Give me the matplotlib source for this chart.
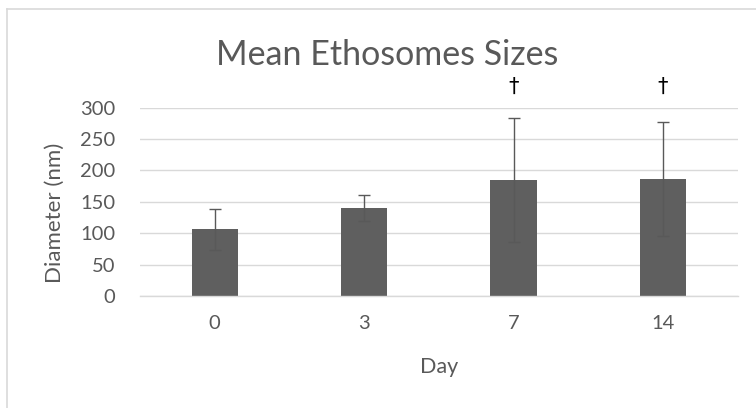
import matplotlib
matplotlib.use("Agg")
import matplotlib.pyplot as plt
import numpy as np

# Data
days = ["0", "3", "7", "14"]
mean_size = [106, 140, 185, 187]
size_err = [33, 21, 99, 91]
marked = [False, False, True, True]   # dagger above bar

plt.rcParams['font.family'] = ['Lato', 'DejaVu Sans']
text_col = '#595959'
grid_col = '#d9d9d9'

fig = plt.figure(figsize=(7.56, 4.08), dpi=100)
ax = fig.add_axes([140 / 756, 1 - 296 / 408, (737.7 - 140) / 756, (296 - 107.7) / 408])

x = np.arange(len(days))
ax.bar(x, mean_size, width=0.31, color='#5f5f5f', zorder=2)
ax.errorbar(x, mean_size, yerr=size_err, fmt='none', ecolor=text_col,
            elinewidth=1.0, capsize=4.5, capthick=1.0, zorder=3)

# daggers for significant days
for xi, m in zip(x, marked):
    if m:
        ax.text(xi, 333, '\u2020', ha='center', va='center', fontsize=15,
                color='black', family=['DejaVu Sans'], clip_on=False)

ax.set_xlim(-0.5, len(days) - 0.5)
ax.set_ylim(0, 300)
ax.set_yticks(np.arange(0, 301, 50))
ax.set_xticks(x)
ax.set_xticklabels(days)
ax.yaxis.grid(True, color=grid_col, linewidth=1.0, zorder=0)
ax.set_axisbelow(True)
for s in ['top', 'right', 'left']:
    ax.spines[s].set_visible(False)
ax.spines['bottom'].set_color(grid_col)
ax.spines['bottom'].set_linewidth(1.0)
ax.tick_params(axis='both', length=0, labelsize=14.5, colors=text_col)
ax.tick_params(axis='y', pad=18)
ax.tick_params(axis='x', pad=14)

# axis titles placed where they sit in the reference
fig.text(438.9 / 756, 1 - 366.7 / 408, 'Day', ha='center', va='center',
         fontsize=15.5, color=text_col)
fig.text(55 / 756, 1 - 213 / 408, 'Diameter (nm)', ha='center', va='center',
         rotation=90, fontsize=16, color=text_col)

fig.text(387 / 756, 1 - 65 / 408, 'Mean Ethosomes Sizes', ha='center',
         va='baseline', fontsize=24.5, color=text_col)

# chart frame (only left and top edges are visible in the crop)
fig.add_artist(plt.Line2D([7 / 756, 7 / 756], [0, 1 - 9 / 408], color=grid_col, linewidth=1.2))
fig.add_artist(plt.Line2D([7 / 756, 1], [1 - 9 / 408, 1 - 9 / 408], color=grid_col, linewidth=1.2))

fig.savefig('out.png', dpi=100)
